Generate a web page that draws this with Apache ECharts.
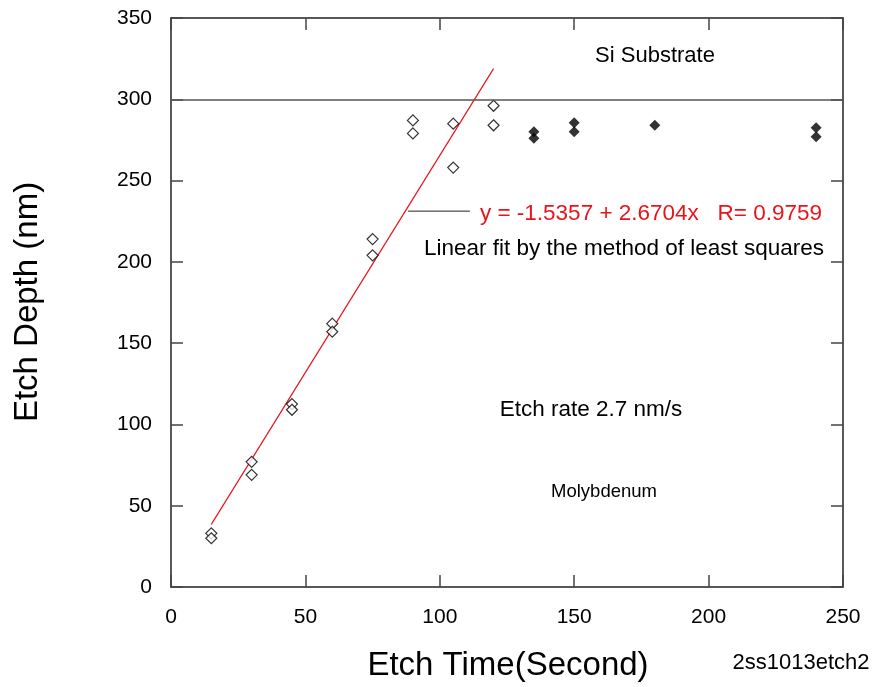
<!DOCTYPE html>
<html>
<head>
<meta charset="utf-8">
<script src="https://cdn.jsdelivr.net/npm/echarts@6/dist/echarts.min.js"></script>
<style>
html, body { margin: 0; padding: 0; background: #fff; }
#chart { width: 873px; height: 687px; }
</style>
</head>
<body>
<div id="chart"></div>
<script>
// data
var openPoints = [
    [15, 33], [15, 30],
    [30, 77], [30, 69],
    [45, 112.5], [45, 109],
    [60, 162], [60, 157],
    [75, 214], [75, 204],
    [90, 287], [90, 279],
    [105, 285], [105, 258],
    [120, 296], [120, 284]
];
var filledPoints = [
    [135, 280], [135, 276],
    [150, 285.5], [150, 280],
    [180, 284],
    [240, 282.5], [240, 277]
];
var fitLine = [[15, 38.5], [120, 318.9]];
var labelLeader = [[88.2, 231.2], [111.2, 231.2]];
var substrateLevel = 300;

var font = 'Liberation Sans, Arial, sans-serif';

var axisCommon = {
    type: 'value',
    splitLine: { show: false },
    axisLine: { show: true, onZero: false, lineStyle: { color: '#222', width: 1.5 } },
    axisTick: { show: true, inside: true, length: 12, lineStyle: { color: '#444', width: 1.5 } }
};

function label(text, x, y, size, color, extra) {
    return Object.assign({
        type: 'text', x: x, y: y,
        style: {
            text: text, font: size + 'px ' + font, fill: color || '#000',
            align: 'center', verticalAlign: 'middle'
        }
    }, extra || {});
}

var option = {
    animation: false,
    backgroundColor: '#fff',
    grid: { left: 171, top: 18, right: 30, bottom: 100 },
    xAxis: [
        Object.assign({}, axisCommon, {
            position: 'bottom', min: 0, max: 250, interval: 50,
            axisLabel: { color: '#000', fontSize: 21, fontFamily: font, margin: 20 }
        }),
        Object.assign({}, axisCommon, {
            position: 'top', min: 0, max: 250, interval: 50,
            axisLabel: { show: false }
        })
    ],
    yAxis: [
        Object.assign({}, axisCommon, {
            position: 'left', min: 0, max: 350, interval: 50,
            axisLabel: { color: '#000', fontSize: 21, fontFamily: font, margin: 19 }
        }),
        Object.assign({}, axisCommon, {
            position: 'right', min: 0, max: 350, interval: 50,
            axisLabel: { show: false }
        })
    ],
    series: [
        {
            type: 'line',
            data: fitLine,
            symbol: 'none',
            lineStyle: { color: '#e8141c', width: 1.2 },
            z: 2,
            markLine: {
                silent: true,
                symbol: 'none',
                label: { show: false },
                lineStyle: { color: '#555', width: 1.5, type: 'solid' },
                data: [{ yAxis: substrateLevel }]
            }
        },
        {
            type: 'line',
            data: labelLeader,
            symbol: 'none',
            lineStyle: { color: '#222', width: 1 }
        },
        {
            type: 'scatter',
            data: openPoints,
            symbol: 'diamond',
            symbolSize: [11, 11],
            itemStyle: { color: '#fff', borderColor: '#000', borderWidth: 1.2 },
            z: 3
        },
        {
            type: 'scatter',
            data: filledPoints,
            symbol: 'diamond',
            symbolSize: [11, 11],
            itemStyle: { color: '#000' },
            z: 3
        }
    ],
    graphic: [
        label('Si Substrate', 655, 56, 22),
        label('y = -1.5357 + 2.6704x   R= 0.9759', 651, 214, 22.5, '#e8141c'),
        label('Linear fit by the method of least squares', 624, 249, 22.5),
        label('Etch rate 2.7 nm/s', 591, 410, 22.5),
        label('Molybdenum', 604, 492, 18.5),
        label('2ss1013etch2', 801, 663, 22),
        label('Etch Time(Second)', 508, 666, 33),
        label('Etch Depth (nm)', 28, 302, 33, '#000', { rotation: Math.PI / 2 })
    ]
};

var chart = echarts.init(document.getElementById('chart'));
chart.setOption(option);
</script>
</body>
</html>
